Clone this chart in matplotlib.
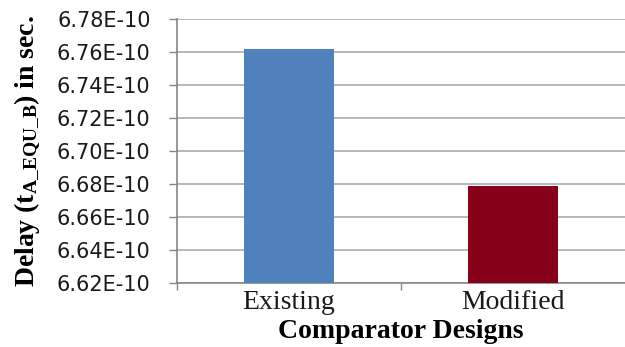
import matplotlib.pyplot as plt
from matplotlib.ticker import FuncFormatter, FixedLocator

designs = ["Existing", "Modified"]
delays = [6.762e-10, 6.679e-10]
bar_colors = ["#4F81BD", "#86001A"]
y_ticks = [6.62e-10, 6.64e-10, 6.66e-10, 6.68e-10, 6.70e-10,
           6.72e-10, 6.74e-10, 6.76e-10, 6.78e-10]

plt.rcParams['mathtext.fontset'] = 'custom'
plt.rcParams['mathtext.bf'] = 'Liberation Serif:bold'
plt.rcParams['mathtext.rm'] = 'Liberation Serif:bold'

fig = plt.figure(figsize=(6.25, 3.47), dpi=100)
ax = fig.add_axes([0.2832, 0.1844, 0.7168, 0.7608])

x = list(range(len(designs)))
ax.bar(x, delays, width=0.4, color=bar_colors, zorder=3)

ax.set_xlim(-0.5, 1.5)
ax.set_ylim(y_ticks[0], y_ticks[-1])
ax.set_yticks(y_ticks)
ax.yaxis.set_major_formatter(FuncFormatter(lambda v, p: "%.2E" % v))
ax.grid(axis='y', color='#a3a3a3', linewidth=1.1, zorder=0)
ax.set_axisbelow(True)

ax.set_xticks(x)
ax.set_xticklabels(designs, family='Liberation Serif', fontsize=20)
ax.xaxis.set_minor_locator(FixedLocator([-0.5, 0.5]))
ax.tick_params(axis='x', which='major', length=0, pad=5, colors='#1a1a1a')
ax.tick_params(axis='x', which='minor', length=5, color='#868686', width=1)
ax.tick_params(axis='y', length=6, color='#868686', width=1, pad=13,
               labelsize=15, labelcolor='#1a1a1a')

for side in ['top', 'right']:
    ax.spines[side].set_visible(False)
for side in ['left', 'bottom']:
    ax.spines[side].set_color('#868686')
    ax.spines[side].set_linewidth(1.2)

ax.set_xlabel("Comparator Designs", family='Liberation Serif',
              fontweight='bold', fontsize=20, labelpad=3)
fig.text(0.045, 0.565, r"Delay ($\mathbf{t_{A\_EQU\_B}}$) in sec.",
         family='Liberation Serif', fontweight='bold', fontsize=20,
         rotation=90, ha='center', va='center')

fig.savefig("out.png", dpi=100)
